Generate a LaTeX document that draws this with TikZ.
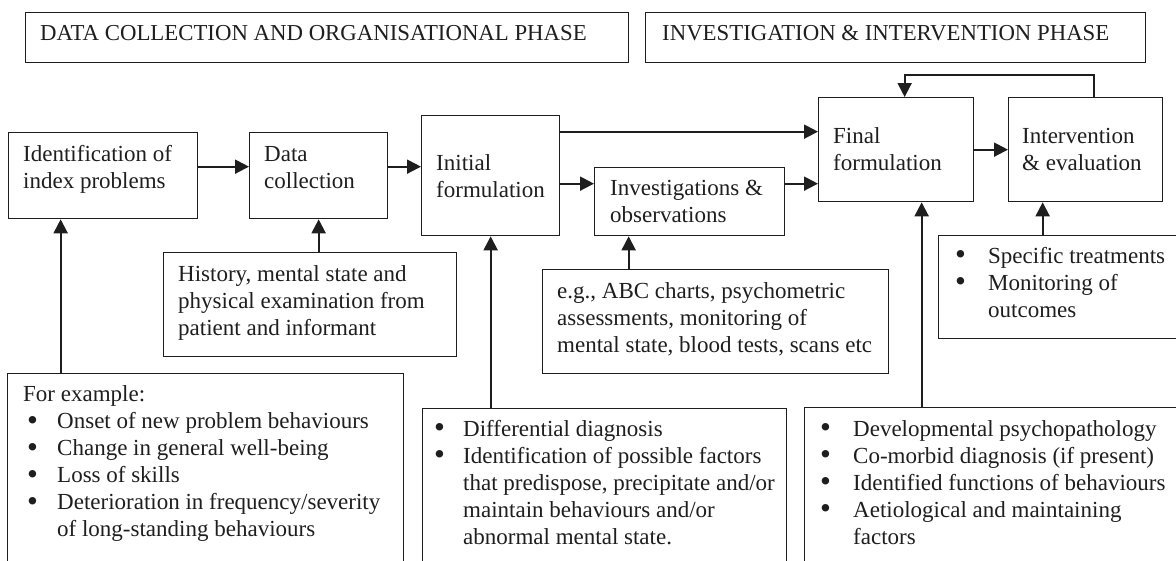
\documentclass[tikz,border=0pt]{standalone}
\usepackage{fontspec}
\setmainfont{Liberation Serif}
\usetikzlibrary{arrows.meta}
\definecolor{ink}{HTML}{1E1E1E}
% strut fixing the height of a text block's first line
\newcommand\fls{\rule{0pt}{22pt}}
% bullet set in a fixed-width slot
\newcommand\bul[1]{\makebox[#1][l]{\raisebox{-0.12ex}{\scalebox{1.35}{\textbullet}}}}
\tikzset{
  box/.style={draw=ink, line width=1.3pt, rectangle, inner sep=0pt, anchor=north west},
  txt/.style={anchor=north west, inner sep=0pt, align=left, text=ink,
              font=\fontsize{23}{27}\selectfont},
  ttl/.style={txt, font=\fontsize{22.8}{27}\selectfont},
  arr/.style={draw=ink, line width=2pt, -{Triangle[length=14pt,width=14pt]}},
}
\begin{document}
\begin{tikzpicture}[x=1pt,y=-1pt]
\useasboundingbox (0,0) rectangle (1176,560);
\clip (0,0) rectangle (1176,560);

% phase headings
\node[box, minimum width=603, minimum height=50] (phaseA) at (25,12) {};
\node[box, minimum width=500, minimum height=50] (phaseB) at (645,12) {};
\node[ttl] (phaseAt) at (40,18.7) {\fls DATA COLLECTION AND ORGANISATIONAL PHASE};
\node[ttl] (phaseBt) at (662,18.7) {\fls INVESTIGATION \& INTERVENTION PHASE};

% main process boxes
\node[box, minimum width=189, minimum height=86] (ident) at (8,132) {};
\node[box, minimum width=138, minimum height=86] (data) at (249,132) {};
\node[box, minimum width=138, minimum height=120] (init) at (421,115) {};
\node[box, minimum width=190, minimum height=68] (invest) at (594,167) {};
\node[box, minimum width=155, minimum height=104] (final) at (818,97) {};
\node[box, minimum width=154, minimum height=104] (interv) at (1008,97) {};

\node[txt] (identt) at (23,139) {\fls Identification of\\index problems};
\node[txt] (datat) at (264,139.5) {\fls Data\\collection};
\node[txt] (initt) at (436,148) {\fls Initial\\formulation};
\node[txt] (investt) at (610,173) {\fls Investigations \&\\observations};
\node[txt] (finalt) at (833,121) {\fls Final\\formulation};
\node[txt] (intervt) at (1022,121) {\fls Intervention\\\& evaluation};

% supporting detail boxes
\node[box, minimum width=293, minimum height=104] (hist) at (163,252) {};
\node[box, minimum width=346, minimum height=104] (eg) at (542,269) {};
\node[box, minimum width=245, minimum height=103] (spec) at (938,235) {};
\node[box, minimum width=396, minimum height=195] (exa) at (7,373) {};
\node[box, minimum width=364, minimum height=160] (diff) at (422,408) {};
\node[box, minimum width=380, minimum height=160] (finb) at (804,407) {};

\node[txt] (histt) at (178,259.5) {\fls History, mental state and\\physical examination from\\patient and informant};
\node[txt] (egt) at (557,276) {\fls e.g., ABC charts, psychometric\\assessments, monitoring of\\mental state, blood tests, scans etc};
\node[txt] (spect) at (955,241) {\fls\bul{33pt}Specific treatments\\\bul{33pt}Monitoring of\\\hspace*{33pt}outcomes};
\node[txt] (exat) at (23,379.7) {\fls For example:\\
  \hspace*{4pt}\bul{30pt}Onset of new problem behaviours\\
  \hspace*{4pt}\bul{30pt}Change in general well-being\\
  \hspace*{4pt}\bul{30pt}Loss of skills\\
  \hspace*{4pt}\bul{30pt}Deterioration in frequency/severity\\
  \hspace*{34pt}of long-standing behaviours};
\node[txt] (difft) at (434,414) {\fls\bul{29pt}Differential diagnosis\\
  \bul{29pt}Identification of possible factors\\
  \hspace*{29pt}that predispose, precipitate and/or\\
  \hspace*{29pt}maintain behaviours and/or\\
  \hspace*{29pt}abnormal mental state.};
\node[txt] (finbt) at (820,414) {\fls\bul{33pt}Developmental psychopathology\\
  \bul{33pt}Co-morbid diagnosis (if present)\\
  \bul{33pt}Identified functions of behaviours\\
  \bul{33pt}Aetiological and maintaining\\
  \hspace*{33pt}factors};

% flow between process boxes
\draw[arr] ([yshift=9pt]ident.east) -- ([yshift=9pt]data.west);
\draw[arr] ([yshift=9pt]data.east) -- ([yshift=9pt]init.west);
\draw[arr] ([yshift=44pt]init.east) -- ([yshift=18pt]final.west);
\draw[arr] ([yshift=-8pt]init.east) -- ([yshift=18pt]invest.west);
\draw[arr] ([yshift=18pt]invest.east) -- ([yshift=-34pt]final.west);
\draw[arr] (final.east) -- (interv.west);
\draw[arr] ([xshift=8pt]interv.north) -- ++(0,-22) -| ([xshift=8.5pt]final.north);

% inputs from detail boxes
\draw[arr] ([xshift=-145pt]exa.north) -- ([xshift=-145pt]exa.north |- ident.south);
\draw[arr] ([xshift=8.5pt]hist.north) -- ([xshift=8.5pt]hist.north |- data.south);
\draw[arr] ([xshift=-114pt]diff.north) -- ([xshift=-114pt]diff.north |- init.south);
\draw[arr] ([xshift=-87pt]eg.north) -- ([xshift=-87pt]eg.north |- invest.south);
\draw[arr] ([xshift=-73pt]finb.north) -- ([xshift=-73pt]finb.north |- final.south);
\draw[arr] ([xshift=-18.5pt]spec.north) -- ([xshift=-18.5pt]spec.north |- interv.south);
\end{tikzpicture}
\end{document}
